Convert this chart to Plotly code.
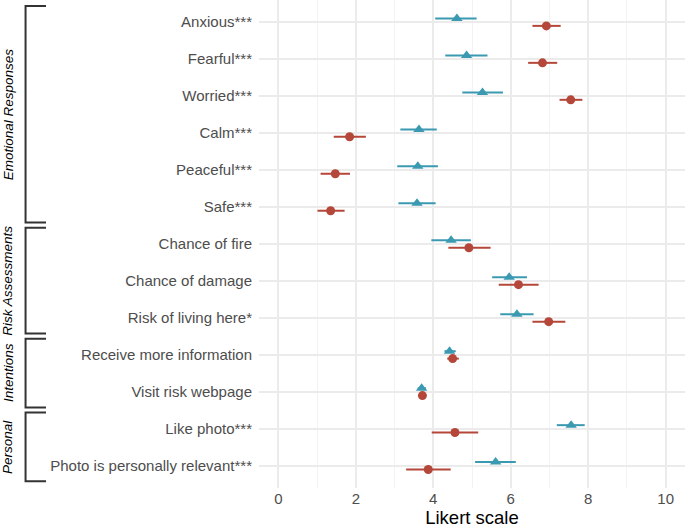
import plotly.graph_objects as go

# outcome labels, top to bottom
items = [
    "Anxious***", "Fearful***", "Worried***", "Calm***", "Peaceful***", "Safe***",
    "Chance of fire", "Chance of damage", "Risk of living here*",
    "Receive more information", "Visit risk webpage",
    "Like photo***", "Photo is personally relevant***",
]

# teal (triangles)
teal_mean = [4.61, 4.86, 5.27, 3.63, 3.60, 3.58, 4.46, 5.96, 6.16, 4.42, 3.70, 7.56, 5.61]
teal_low = [4.05, 4.31, 4.75, 3.15, 3.07, 3.10, 3.95, 5.52, 5.73, 4.29, 3.60, 7.19, 5.08]
teal_high = [5.12, 5.40, 5.80, 4.09, 4.12, 4.06, 4.97, 6.42, 6.59, 4.58, 3.81, 7.91, 6.13]

# red (circles)
red_mean = [6.92, 6.82, 7.55, 1.84, 1.47, 1.35, 4.92, 6.20, 6.98, 4.50, 3.72, 4.56, 3.87]
red_low = [6.56, 6.45, 7.26, 1.43, 1.09, 1.01, 4.39, 5.69, 6.56, 4.36, 3.68, 3.96, 3.30]
red_high = [7.29, 7.20, 7.85, 2.26, 1.85, 1.71, 5.48, 6.72, 7.41, 4.66, 3.76, 5.16, 4.45]

groups = ["Emotional Responses", "Risk Assessments", "Intentions", "Personal"]
group_first = [0, 6, 9, 11]
group_last = [5, 8, 10, 12]

TEAL = "#3B9AB2"
RED = "#B5473A"
FONT = "Liberation Sans, Arial, sans-serif"

n = len(items)
ypos = [n - i for i in range(n)]
dodge = 0.1

fig = go.Figure()


def add_series(mean, low, high, color, symbol, size, shift):
    fig.add_trace(go.Scatter(
        x=mean,
        y=[y + shift for y in ypos],
        mode="markers",
        marker=dict(color=color, symbol=symbol, size=size, line=dict(width=0)),
        error_x=dict(
            type="data", symmetric=False,
            array=[h - m for h, m in zip(high, mean)],
            arrayminus=[m - l for m, l in zip(mean, low)],
            color=color, thickness=2, width=0,
        ),
        showlegend=False,
    ))


add_series(teal_mean, teal_low, teal_high, TEAL, "triangle-up", 10, dodge)
add_series(red_mean, red_low, red_high, RED, "circle", 9, -dodge)

# brackets + rotated group labels on the left
xv, xh = -0.548, -0.50
for name, a, b in zip(groups, group_first, group_last):
    top = ypos[a] + 0.44
    bot = ypos[b] - 0.42
    fig.add_shape(
        type="path", xref="paper", yref="y",
        path=f"M {xh},{top} L {xv},{top} L {xv},{bot} L {xh},{bot}",
        line=dict(color="#333333", width=2),
    )
    fig.add_annotation(
        x=-0.589, xref="paper", y=(top + bot) / 2, yref="y",
        xanchor="center", yanchor="middle",
        text=f"<i>{name}</i>", textangle=-90, showarrow=False,
        font=dict(family=FONT, size=13.5, color="black"),
    )

fig.update_layout(
    width=685, height=529,
    margin=dict(l=259, r=0, t=0, b=41),
    plot_bgcolor="white", paper_bgcolor="white",
    font=dict(family=FONT),
)
fig.update_xaxes(
    range=[-0.5, 10.5], tickvals=[0, 2, 4, 6, 8, 10],
    showgrid=True, gridcolor="#EBEBEB", gridwidth=1.5,
    minor=dict(tickvals=[1, 3, 5, 7, 9], showgrid=True, gridcolor="#F3F3F3", gridwidth=1),
    zeroline=False, showline=False, automargin=False,
    tickfont=dict(size=15, color="#4D4D4D"),
    title=dict(text="Likert scale", font=dict(size=18.5, color="black"), standoff=2),
)
fig.update_yaxes(
    range=[0.4, n + 0.6], tickvals=ypos, ticktext=items,
    showgrid=True, gridcolor="#EBEBEB", gridwidth=1.5,
    zeroline=False, showline=False, automargin=False,
    tickfont=dict(size=15, color="#4D4D4D"),
    ticklabelstandoff=6,
)

# drop the browser's default 8px page margin so the figure sits at the corner
fig.write_html(
    "out.html",
    config={"displayModeBar": False},
    post_script="document.body.style.margin = '0';",
)
